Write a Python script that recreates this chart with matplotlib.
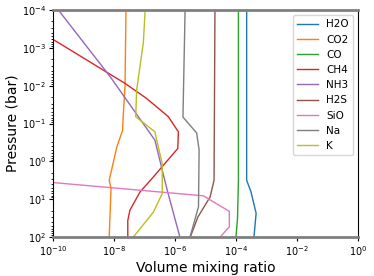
import matplotlib
matplotlib.use('Agg')

import matplotlib.pyplot as plt
from matplotlib.ticker import NullLocator

# log10 pressure (bar) and log10 volume mixing ratio
h2o_p = [-4, 0.5, 0.8, 1.37, 2]
h2o_x = [-3.65, -3.65, -3.51, -3.34, -3.41]

co2_p = [-4, -2, -1.2, -0.82, -0.38, 0.5, 0.71, 2]
co2_x = [-7.61, -7.64, -7.70, -7.72, -7.91, -8.16, -8.10, -8.16]

co_p = [-4, 0.5, 1.5, 2]
co_x = [-3.92, -3.92, -3.95, -4.0]

ch4_p = [-3.22, -2.06, -1.66, -1.18, -0.78, -0.34, 0.41, 0.81, 1.29, 1.56, 2]
ch4_x = [-10.0, -7.64, -6.93, -6.22, -5.89, -5.91, -6.71, -7.15, -7.48, -7.55, -7.55]

nh3_p = [-4, -2.24, -0.56, 0.23, 0.81, 2]
nh3_x = [-9.83, -8.13, -6.66, -6.42, -6.24, -5.84]

h2s_p = [-4, 0.5, 0.94, 1.47, 2]
h2s_x = [-4.69, -4.72, -4.85, -5.25, -5.50]

sio_p = [0.56, 0.91, 1.32, 1.73, 2]
sio_x = [-10.0, -5.07, -4.22, -4.22, -4.52]

na_p = [-4, -1.17, -0.75, -0.3, 1.2, 2]
na_x = [-5.67, -5.74, -5.29, -5.21, -5.23, -5.51]

k_p = [-4, -3.13, -1.88, -1.18, -0.78, -0.56, 0.06, 0.85, 1.34, 2]
k_x = [-6.98, -7.04, -7.26, -7.29, -6.66, -6.60, -6.42, -6.42, -6.71, -7.37]

species = ['H2O', 'CO2', 'CO', 'CH4', 'NH3', 'H2S', 'SiO', 'Na', 'K']
profiles = [(h2o_x, h2o_p), (co2_x, co2_p), (co_x, co_p), (ch4_x, ch4_p),
            (nh3_x, nh3_p), (h2s_x, h2s_p), (sio_x, sio_p), (na_x, na_p),
            (k_x, k_p)]

fig = plt.figure(figsize=(3.74, 2.76), dpi=100)
ax = fig.add_axes([0.142, 0.141, 0.815, 0.823])

for name, (lx, lp) in zip(species, profiles):
    ax.plot([10 ** v for v in lx], [10 ** v for v in lp], label=name, lw=1.0)

ax.set_xscale('log')
ax.set_yscale('log')
ax.set_xlim(1e-10, 1)
ax.set_ylim(1e2, 1e-4)
ax.xaxis.set_minor_locator(NullLocator())
ax.set_xlabel('Volume mixing ratio', fontsize=10, labelpad=2)
ax.set_ylabel('Pressure (bar)', fontsize=10, labelpad=2)
ax.tick_params(labelsize=7, pad=2)
ax.tick_params(which='major', length=3)
ax.tick_params(which='minor', length=1.5)
ax.spines['top'].set_color('gray')
ax.spines['bottom'].set_color('gray')
ax.spines['top'].set_linewidth(2)
ax.spines['bottom'].set_linewidth(2)
ax.legend(loc='upper right', fontsize=7.5)

plt.savefig('out.png')
